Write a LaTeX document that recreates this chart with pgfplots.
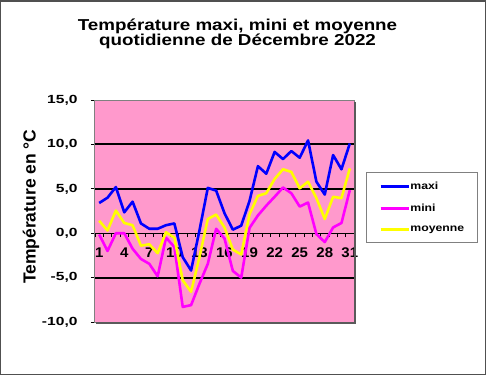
\documentclass[border=0pt]{standalone}
\usepackage{fontspec}
\setmainfont{Liberation Sans}[FakeStretch=1.19]
\newfontfamily\ylabfont{Liberation Sans}
\newfontfamily\ytickfont{Liberation Sans Bold}[FakeStretch=1.32]
\newfontfamily\xtickfont{Liberation Sans Bold}[FakeStretch=1.07]
\usepackage{pgfplots}
\pgfplotsset{compat=1.18}
\usetikzlibrary{backgrounds}
\definecolor{plotpink}{HTML}{FF99CC}
\definecolor{framegray}{HTML}{808080}
\definecolor{outergray}{HTML}{505050}
\definecolor{shadowgray}{HTML}{5A5A5A}
\definecolor{cmaxi}{HTML}{0000FF}
\definecolor{cmini}{HTML}{FF00FF}
\definecolor{cmoy}{HTML}{FFFF00}

\pgfplotstableread{
day maxi mini moy
1 3.4 -0.15 1.4
2 4.0 -2.0 0.3
3 5.2 0.0 2.55
4 2.35 0.0 1.15
5 3.55 -1.75 0.9
6 1.1 -2.9 -1.4
7 0.5 -3.45 -1.25
8 0.5 -4.85 -2.25
9 0.9 -0.5 0.1
10 1.1 -1.55 -0.5
11 -2.7 -8.3 -5.3
12 -4.2 -8.1 -6.6
13 0.3 -5.7 -2.7
14 5.1 -3.45 1.6
15 4.8 0.5 2.1
16 2.25 -0.6 0.65
17 0.4 -4.25 -1.85
18 0.85 -5.0 -2.4
19 3.65 0.6 2.15
20 7.55 2.0 4.2
21 6.7 3.1 4.5
22 9.15 4.1 6.1
23 8.35 5.15 7.2
24 9.25 4.5 6.9
25 8.5 3.0 5.05
26 10.45 3.45 5.8
27 5.8 -0.1 3.95
28 4.35 -1.0 1.6
29 8.8 0.65 4.1
30 7.2 1.15 3.95
31 10.1 4.85 7.3
}\datatable

\begin{document}
\begin{tikzpicture}[background rectangle/.style={fill=white}, show background rectangle, inner frame sep=0pt]
\begin{axis}[
  width=259pt, height=222pt, scale only axis,
  clip=false,
  xmin=0.5, xmax=31.5, ymin=-10, ymax=15,
  axis line style={framegray, line width=1pt},
  axis background/.style={fill=plotpink},
  tick align=outside,
  xtick pos=bottom, ytick pos=left,
  xtick={1,4,...,31},
  xticklabels={1,4,7,10,13,16,19,22,25,28,31},
  minor xtick={0.5,1.5,...,31.5},
  major x tick style={draw=none},
  minor x tick style={black, line width=0.6pt, yshift=88.8pt},
  minor tick length=4pt,
  major tick length=4pt,
  ytick={-10,-5,...,15},
  yticklabels={{-10,0},{-5,0},{0,0},{5,0},{10,0},{15,0}},
  y tick style={black, line width=0.8pt},
  minor ytick={0},
  yminorgrids=true,
  minor grid style={black, line width=1pt},
  minor y tick style={draw=none},
  extra y ticks={-5,5,10}, extra y tick labels={},
  extra y tick style={major tick length=0pt, grid=major, major grid style={black, line width=2pt}},
  yticklabel style={font=\ytickfont\fontsize{11.8}{12}\selectfont, inner sep=0pt, xshift=-13.3pt},
  xticklabel style={font=\xtickfont\fontsize{14}{14}\selectfont, inner sep=0pt, yshift=78pt},
  legend style={at={(axis description cs:1.046,0.676)}, anchor=north west,
    draw=framegray, line width=0.8pt, fill=white,
    font=\fontsize{10.3}{12}\selectfont\bfseries,
    row sep=12pt, inner xsep=13pt, inner ysep=9pt, nodes={inner sep=0.5pt}},
  legend cell align=left,
  legend image code/.code={\draw[#1] (0pt,0pt) -- (28pt,0pt);},
  every axis plot/.append style={line width=2.6pt, line join=round, no markers},
]
\addplot[cmaxi] table[x=day, y=maxi] {\datatable};
\addlegendentry{maxi}
\addplot[cmini] table[x=day, y=mini] {\datatable};
\addlegendentry{mini}
\addplot[cmoy] table[x=day, y=moy] {\datatable};
\addlegendentry{moyenne}
% frame and decorations tied to the axis box (259 x 222 px box at image x 95..354, y 100..322)
\coordinate (sw) at (axis description cs:0,0);
\coordinate (se) at (axis description cs:1,0);
\coordinate (ne) at (axis description cs:1,1);
\fill[shadowgray] ([xshift=1.5pt,yshift=-1.6pt]sw) rectangle ([xshift=1.6pt]se);
\fill[shadowgray] ([yshift=-1.6pt]se) rectangle ([xshift=1.6pt,yshift=-1.5pt]ne);
\draw[outergray, line width=1.5pt] ([xshift=-94.25pt,yshift=-52.25pt]sw) rectangle ([xshift=131.25pt,yshift=99.25pt]ne);
\node[anchor=base, font=\fontsize{15.8}{14}\selectfont\bfseries, inner sep=0pt, text height=11.5pt, text depth=2pt] at ([xshift=142.5pt,yshift=69.5pt]sw |- ne) {Température maxi, mini et moyenne};
\node[anchor=base, font=\fontsize{15.8}{14}\selectfont\bfseries, inner sep=0pt, text height=11.5pt, text depth=3pt] at ([xshift=142.5pt,yshift=54.5pt]sw |- ne) {quotidienne de Décembre 2022};
\node[rotate=90, font=\ylabfont\fontsize{17.5}{18}\selectfont\bfseries, inner sep=0pt] at ([xshift=-64pt,yshift=115.3pt]sw) {Température en °C};
\end{axis}
\end{tikzpicture}
\end{document}
